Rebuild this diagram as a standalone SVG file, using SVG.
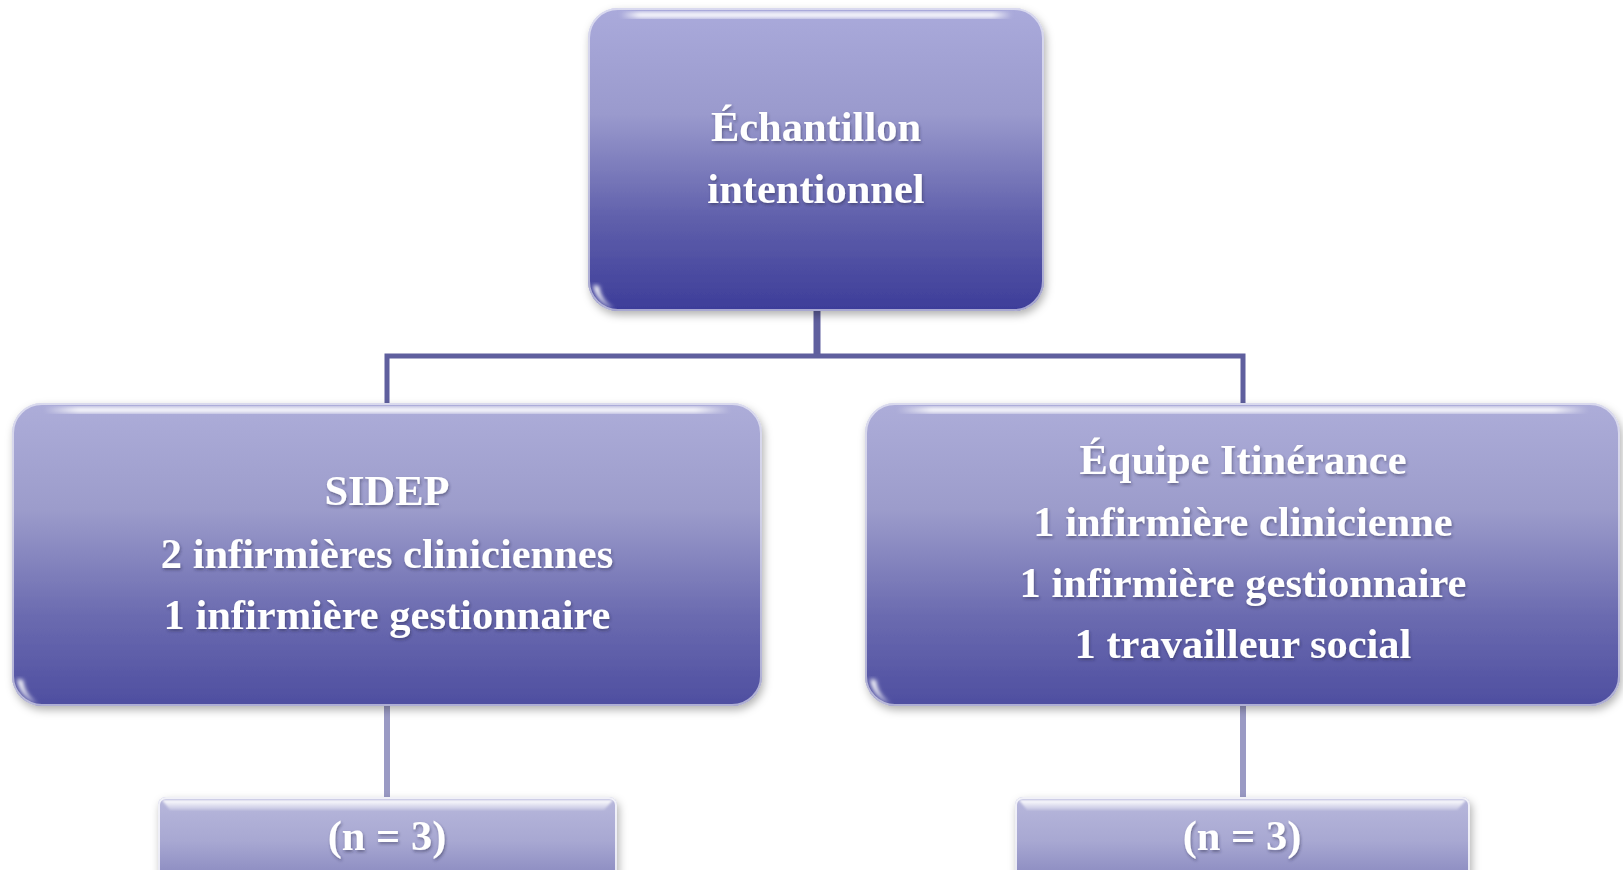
<svg xmlns="http://www.w3.org/2000/svg" width="1623" height="870" viewBox="0 0 1623 870">
<defs>
<linearGradient id="gTop" x1="0" y1="0" x2="0" y2="1">
<stop offset="0" stop-color="#aaaadb"/>
<stop offset="0.35" stop-color="#9a9acd"/>
<stop offset="0.7" stop-color="#5f5fab"/>
<stop offset="1" stop-color="#3d3d99"/>
</linearGradient>
<linearGradient id="gMid" x1="0" y1="0" x2="0" y2="1">
<stop offset="0" stop-color="#adadd9"/>
<stop offset="0.35" stop-color="#9c9ccb"/>
<stop offset="0.7" stop-color="#6b6bb0"/>
<stop offset="1" stop-color="#4e4ea0"/>
</linearGradient>
<linearGradient id="gBot" x1="0" y1="0" x2="0" y2="1">
<stop offset="0" stop-color="#b8b8dc"/>
<stop offset="0.4" stop-color="#a8a8d2"/>
<stop offset="1" stop-color="#7272b2"/>
</linearGradient>
<linearGradient id="gHi" x1="0" y1="0" x2="1" y2="0">
<stop offset="0" stop-color="#fff" stop-opacity="0"/>
<stop offset="0.05" stop-color="#fff" stop-opacity="0.95"/>
<stop offset="0.95" stop-color="#fff" stop-opacity="0.95"/>
<stop offset="1" stop-color="#fff" stop-opacity="0"/>
</linearGradient>
<linearGradient id="gBev" x1="0" y1="0" x2="0" y2="1">
<stop offset="0" stop-color="#fff" stop-opacity="1"/>
<stop offset="1" stop-color="#fff" stop-opacity="0.2"/>
</linearGradient>
<filter id="shadow" x="-5%" y="-5%" width="110%" height="115%">
<feDropShadow dx="2" dy="4" stdDeviation="4" flood-color="#000" flood-opacity="0.3"/>
</filter>
<filter id="blur2"><feGaussianBlur stdDeviation="2"/></filter>
<filter id="blur1"><feGaussianBlur stdDeviation="1"/></filter>
<filter id="tshadow" x="-10%" y="-20%" width="120%" height="140%">
<feDropShadow dx="1" dy="2" stdDeviation="1.5" flood-color="#202040" flood-opacity="0.45"/>
</filter>
</defs>
<style>
.lbl{font-family:"Liberation Serif","Times New Roman",serif;font-weight:bold;font-size:42.5px;fill:#fff;text-anchor:middle;filter:url(#tshadow)}
.conn{fill:none;stroke:#5f5f9e;stroke-width:5}
.conn2{fill:none;stroke:#9a9ac4;stroke-width:6}
.rim{fill:none;stroke:#fff;stroke-opacity:0.55;stroke-width:2}
.hi{fill:url(#gHi);filter:url(#blur2)}
.cres{fill:#fff;filter:url(#blur2)}
.bev{fill:url(#gBev);filter:url(#blur1)}
</style>

<g id="connectors">
<line class="conn" x1="817" y1="310" x2="817" y2="356" style="stroke-width:7"/>
<polyline class="conn" points="387,404 387,356 1243,356 1243,404"/>
<line class="conn2" x1="387" y1="705" x2="387" y2="798"/>
<line class="conn2" x1="1243" y1="705" x2="1243" y2="798"/>
</g>

<g id="node-top">
<rect x="588" y="8" width="456" height="303" rx="30" fill="url(#gTop)" filter="url(#shadow)"/>
<rect x="589" y="9" width="454" height="301" rx="29" class="rim"/>
<rect x="620" y="12" width="392" height="6" rx="3" class="hi"/>
<path d="M593,285 Q596,302 614,309 Q600,300 599,286 Z" class="cres"/>
<text class="lbl" x="816" y="141">Échantillon</text>
<text class="lbl" x="816" y="203">intentionnel</text>
</g>

<g id="node-sidep">
<rect x="12" y="403" width="750" height="303" rx="30" fill="url(#gMid)" filter="url(#shadow)"/>
<rect x="13" y="404" width="748" height="301" rx="29" class="rim"/>
<rect x="44" y="407" width="686" height="6" rx="3" class="hi"/>
<path d="M17,679 Q20,697 38,704 Q24,695 23,680 Z" class="cres"/>
<text class="lbl" x="387" y="505">SIDEP</text>
<text class="lbl" x="387" y="568">2 infirmières cliniciennes</text>
<text class="lbl" x="387" y="629">1 infirmière gestionnaire</text>
</g>

<g id="node-itinerance">
<rect x="865" y="403" width="755" height="303" rx="30" fill="url(#gMid)" filter="url(#shadow)"/>
<rect x="866" y="404" width="753" height="301" rx="29" class="rim"/>
<rect x="897" y="407" width="691" height="6" rx="3" class="hi"/>
<path d="M870,679 Q873,697 891,704 Q877,695 876,680 Z" class="cres"/>
<text class="lbl" x="1243" y="474">Équipe Itinérance</text>
<text class="lbl" x="1243" y="536">1 infirmière clinicienne</text>
<text class="lbl" x="1243" y="597">1 infirmière gestionnaire</text>
<text class="lbl" x="1243" y="658">1 travailleur social</text>
</g>

<g id="node-n-left">
<rect x="158" y="797" width="459" height="110" rx="8" fill="url(#gBot)" filter="url(#shadow)"/>
<rect x="159" y="798" width="457" height="108" rx="7" class="rim" style="stroke-opacity:0.8"/>
<path d="M162,800 L613,800 L604,810 L170,810 Z" class="bev"/>
<text class="lbl" x="387" y="850">(n = 3)</text>
</g>

<g id="node-n-right">
<rect x="1015" y="797" width="455" height="110" rx="8" fill="url(#gBot)" filter="url(#shadow)"/>
<rect x="1016" y="798" width="453" height="108" rx="7" class="rim" style="stroke-opacity:0.8"/>
<path d="M1019,800 L1466,800 L1457,810 L1027,810 Z" class="bev"/>
<text class="lbl" x="1242" y="850">(n = 3)</text>
</g>
</svg>
